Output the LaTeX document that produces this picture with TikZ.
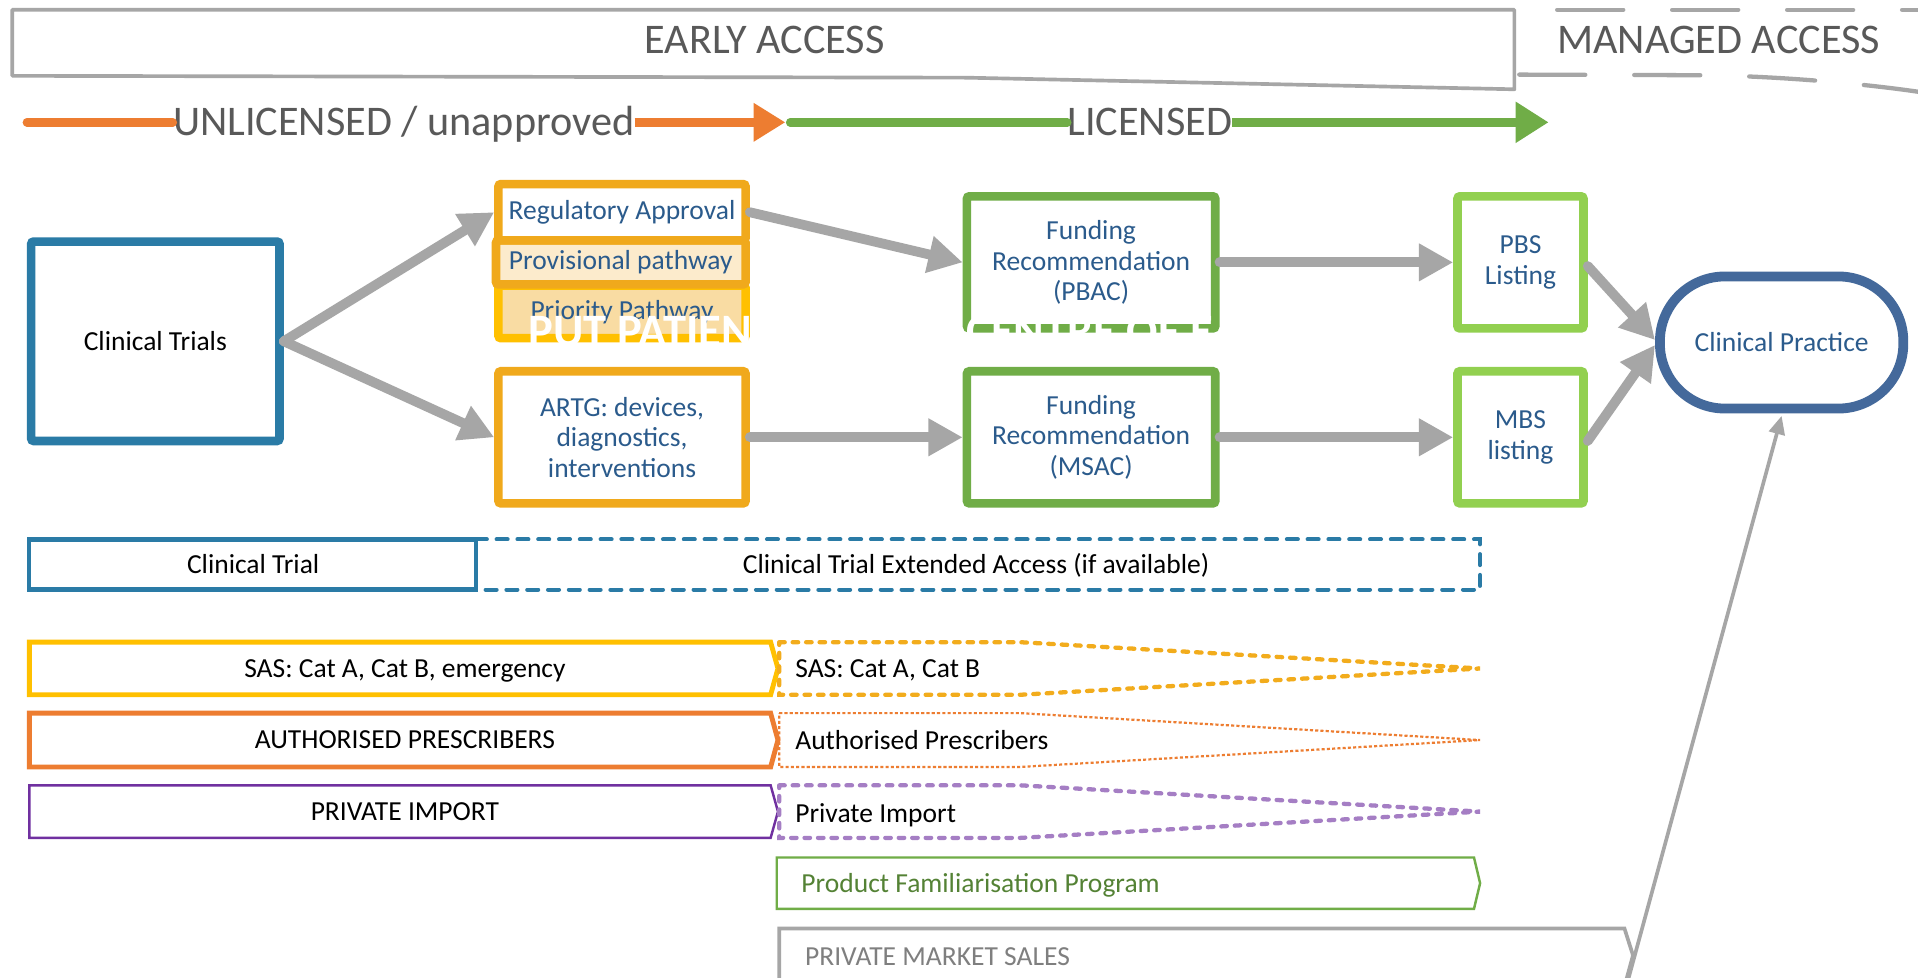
\documentclass[tikz,border=0pt]{standalone}
\usepackage{fontspec}
\setmainfont{Carlito}
\usetikzlibrary{arrows.meta}
\definecolor{txtgray}{HTML}{595959}
\definecolor{boxgray}{HTML}{A6A6A6}
\definecolor{grayseven}{HTML}{7F7F7F}
\definecolor{uorange}{HTML}{ED7D31}
\definecolor{lgreen}{HTML}{70AD47}
\definecolor{ctblue}{HTML}{2A7BA6}
\definecolor{txtblue}{HTML}{2B5B8C}
\definecolor{amber}{HTML}{F0A91C}
\definecolor{goldc}{HTML}{FFC000}
\definecolor{provfill}{HTML}{FCEBCC}
\definecolor{prifill}{HTML}{F9DCA3}
\definecolor{limec}{HTML}{92D050}
\definecolor{cpblue}{HTML}{44699B}
\definecolor{ipurple}{HTML}{7030A0}
\definecolor{lpurple}{HTML}{A57EC4}
\definecolor{pfgreen}{HTML}{548235}
\definecolor{dashamber}{HTML}{F2AC1C}
\tikzset{
  bigtxt/.style={font=\fontsize{34.5}{40}\selectfont, text=txtgray, inner sep=0pt},
  bodytxt/.style={font=\fontsize{22.5}{25}\selectfont, text=black, inner sep=0pt},
  flowbox/.style={draw, line width=7pt, rounded corners=2pt, fill=white, align=center,
     inner sep=0pt, text=txtblue, font=\fontsize{22.5}{25}\selectfont},
  garrow/.style={draw=boxgray, line width=8pt, line cap=round,
     -{Triangle[length=28pt,width=29pt]}},
  thinarrow/.style={draw=boxgray, line width=3pt, -{Triangle[length=15pt,width=13pt]}},
  whitetxt/.style={text=white, font=\bfseries\fontsize{38}{38}\selectfont, inner sep=0pt, anchor=base west},
}
\begin{document}
\begin{tikzpicture}[x=1pt,y=-1pt]
\useasboundingbox (0,0) rectangle (1568,799);
\fill[white] (0,0) rectangle (1568,799);

% ---- header
\draw[boxgray, line width=3pt, line join=round] (10,8) -- (1238,8) -- (1238,73) -- (790,63.5) -- (10,62) -- cycle;
\node[bigtxt, anchor=base] (early) at (625,44) {EARLY ACCESS};
\draw[boxgray, line width=3.5pt, line cap=round, dash pattern=on 54pt off 40pt] (1273,8) -- (1568,8);
\draw[boxgray, line width=3.5pt, line cap=round, dash pattern=on 54pt off 40pt]
  (1242,61) -- (1390,61.5) .. controls (1450,62) and (1520,68) .. (1568,75);
\node[bigtxt, anchor=base] (managed) at (1405,44) {MANAGED ACCESS};

% ---- licence arrows
\coordinate (o0) at (22,100);
\coordinate (otip) at (642,100);
\coordinate (g0) at (646,100);
\coordinate (gtip) at (1266,100);
\node[bigtxt, anchor=base] (unl) at (330,111) {UNLICENSED / unapproved};
\node[bigtxt, anchor=base] (lic) at (940,111) {LICENSED};
\draw[uorange, line width=7pt, line cap=round] (o0) -- (o0 -| unl.west);
\draw[uorange, line width=7pt, -{Triangle[length=26pt,width=30pt]}] (o0 -| unl.east) -- (otip);
\draw[lgreen, line width=7pt, line cap=round] (g0) -- (g0 -| lic.west);
\draw[lgreen, line width=7pt, -{Triangle[length=27pt,width=32pt]}] (g0 -| lic.east) -- (gtip);

% ---- flow boxes
\node[flowbox, draw=ctblue, text=black, minimum width=203pt, minimum height=163pt] (ct) at (127,279) {Clinical Trials};
\node[flowbox, draw=goldc, fill=prifill, minimum width=202pt, minimum height=43pt] (pri) at (508.5,255) {Priority Pathway};
\node[flowbox, draw=amber, fill=provfill, minimum width=204pt, minimum height=36pt] (prov) at (507.5,214.5) {Provisional pathway};
\node[flowbox, draw=amber, minimum width=202pt, minimum height=46pt] (reg) at (508.5,173.5) {Regulatory Approval};
\node[flowbox, draw=amber, minimum width=202pt, minimum height=108pt] (artg) at (508.5,357.5) {ARTG: devices,\\diagnostics,\\interventions};
\node[flowbox, draw=lgreen, minimum width=203pt, minimum height=108pt] (pbac) at (892,214.5) {Funding\\Recommendation\\(PBAC)};
\node[flowbox, draw=lgreen, minimum width=203pt, minimum height=108pt] (msac) at (892,357.5) {Funding\\Recommendation\\(MSAC)};
\node[flowbox, draw=limec, minimum width=103pt, minimum height=108pt] (pbs) at (1243,214.5) {PBS\\Listing};
\node[flowbox, draw=limec, minimum width=103pt, minimum height=108pt] (mbs) at (1243,357.5) {MBS\\listing};
\node[flowbox, draw=cpblue, line width=8pt, rounded corners=53pt, minimum width=199pt, minimum height=108pt] (cp) at (1456.5,280) {Clinical Practice};

% white overlay text
\node[whitetxt] (put) at (432,283) {PUT PATIEN};
\node[whitetxt] (centre) at (790,283) {CENTRE OF E};

% ---- connectors
\draw[garrow] (ct.east) -- (reg.west);
\draw[garrow] (ct.east) -- (artg.west);
\draw[garrow] (reg.east) -- (pbac.west);
\draw[garrow] (artg.east) -- (msac.west);
\draw[garrow] (pbac.east) -- (pbs.west);
\draw[garrow] (msac.east) -- (mbs.west);
\draw[garrow] ([yshift=-3pt]pbs.east) -- ([yshift=2pt]cp.west);
\draw[garrow] ([yshift=-3pt]mbs.east) -- ([yshift=-2pt]cp.west);

% ---- bottom bars
\draw[ctblue, line width=3.5pt] (389,441) -- (24,441) -- (24,482) -- (389,482) -- cycle;
\draw[ctblue, line width=3.3pt, line cap=round, dash pattern=on 9pt off 8pt] (389,441) -- (1210,441) -- (1210,482) -- (389,482);
\node[bodytxt, anchor=base] (ctrial) at (207,469) {Clinical Trial};
\node[bodytxt, anchor=base] (ctea) at (798,469) {Clinical Trial Extended Access (if available)};

\draw[goldc, line width=4pt] (24,525) -- (630,525) -- (636,546.5) -- (630,568) -- (24,568) -- cycle;
\draw[dashamber, line width=3.5pt, line cap=round, dash pattern=on 4.5pt off 6.5pt] (637,525) -- (834,525) -- (1210,546.5) -- (834,568) -- (637,568) -- cycle;
\node[bodytxt, anchor=base] (sasA) at (331,554) {SAS: Cat A, Cat B, emergency};
\node[bodytxt, anchor=base west] (sasB) at (650,554) {SAS: Cat A, Cat B};

\draw[uorange, line width=4pt] (24,583) -- (630,583) -- (636,605) -- (630,627) -- (24,627) -- cycle;
\draw[uorange, line width=1.8pt, dash pattern=on 2.5pt off 1.8pt] (637,583) -- (834,583) -- (1210,605) -- (834,627) -- (637,627) -- cycle;
\node[bodytxt, anchor=base] (apA) at (331,612) {AUTHORISED PRESCRIBERS};
\node[bodytxt, anchor=base west] (apB) at (650,613) {Authorised Prescribers};

\draw[ipurple, line width=2pt] (24,642) -- (630,642) -- (636,663.5) -- (630,685) -- (24,685) -- cycle;
\draw[lpurple, line width=3.5pt, line cap=round, dash pattern=on 4.5pt off 6.5pt] (637,642) -- (834,642) -- (1210,663.5) -- (834,685) -- (637,685) -- cycle;
\node[bodytxt, anchor=base] (piA) at (331,671) {PRIVATE IMPORT};
\node[bodytxt, anchor=base west] (piB) at (650,672) {Private Import};

\draw[lgreen, line width=2pt] (635,701) -- (1205,701) -- (1210,722) -- (1205,743) -- (635,743) -- cycle;
\node[bodytxt, text=pfgreen, anchor=base west] (pfp) at (655,730) {Product Familiarisation Program};

\draw[boxgray, line width=3pt] (637,803) -- (637,759) -- (1328,759) -- (1335,781) -- (1329,803);
\node[bodytxt, text=grayseven, anchor=base west] (pms) at (658,789) {PRIVATE MARKET SALES};

\coordinate (pmsfoot) at (1331,801);
\draw[thinarrow] (pmsfoot) -- ([yshift=-2pt]cp.south);
\end{tikzpicture}
\end{document}
